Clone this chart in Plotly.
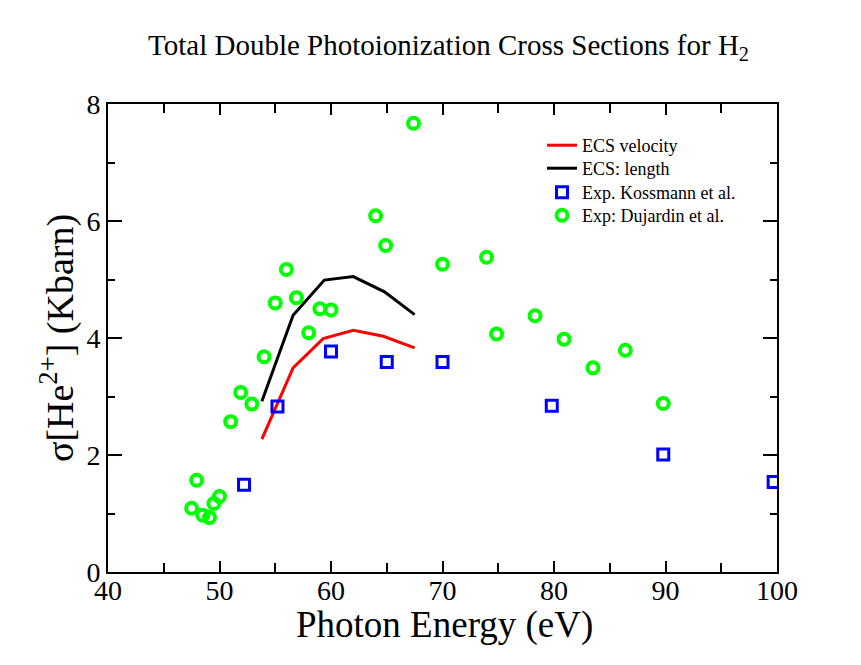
import plotly.graph_objects as go

# ECS velocity (red)
vel_x = [53.8, 56.6, 59.3, 62.0, 64.7, 67.5]
vel_y = [2.27, 3.49, 3.99, 4.13, 4.03, 3.83]
# ECS length (black)
len_x = [53.8, 56.6, 59.4, 62.0, 64.8, 67.5]
len_y = [2.92, 4.39, 4.99, 5.05, 4.79, 4.40]
# Exp. Kossmann et al. (blue squares)
kos_x = [52.2, 55.2, 60.0, 65.0, 70.0, 79.8, 89.8, 99.7]
kos_y = [1.49, 2.83, 3.77, 3.59, 3.59, 2.84, 2.01, 1.54]
# Exp. Dujardin et al. (green circles)
duj_x = [47.5, 47.95, 48.5, 49.1, 49.5, 50.0, 51.0, 51.9, 52.9, 54.0, 55.0, 56.0, 56.9,
         58.0, 59.0, 60.0, 64.0, 64.9, 67.4, 70.0, 73.95, 74.85, 78.3, 80.9, 83.5, 86.4, 89.8]
duj_y = [1.09, 1.57, 0.97, 0.93, 1.17, 1.29, 2.57, 3.07, 2.87, 3.68, 4.60, 5.17, 4.69,
         4.09, 4.50, 4.48, 6.09, 5.58, 7.67, 5.26, 5.38, 4.07, 4.38, 3.98, 3.49, 3.79, 2.88]

SERIF = "Liberation Serif"

fig = go.Figure()
fig.add_trace(go.Scatter(x=vel_x, y=vel_y, mode="lines", name="ECS velocity", legend="legend",
                         line=dict(color="#ff0000", width=3)))
fig.add_trace(go.Scatter(x=len_x, y=len_y, mode="lines", name="ECS: length", legend="legend2",
                         line=dict(color="#000000", width=3)))
fig.add_trace(go.Scatter(x=kos_x, y=kos_y, mode="markers", name="Exp. Kossmann et al.", legend="legend3",
                         marker=dict(symbol="square-open", size=11, color="#0000ff",
                                     line=dict(width=3, color="#0000ff"))))
fig.add_trace(go.Scatter(x=duj_x, y=duj_y, mode="markers", name="Exp: Dujardin et al.", legend="legend4",
                         marker=dict(symbol="circle-open", size=11, color="#00ff00",
                                     line=dict(width=4, color="#00ff00"))))

# page body adds 8px margin; figure is sized so the screenshot window fits it
W, H = 845, 649
L, T = 100, 96
R, B = W - 769, H - 564
pw = W - L - R
ph = H - T - B

def px2paper_x(px):
    return (px - L) / pw

def px2paper_y(py):
    return (H - B - py) / ph

axis_common = dict(
    showline=True, linecolor="black", linewidth=2, mirror="allticks",
    ticks="inside", tickcolor="black", tickwidth=2,
    showgrid=False, zeroline=False,
    tickfont=dict(family=SERIF, size=28, color="black"),
)

fig.update_xaxes(range=[40, 100], tickvals=[40, 50, 60, 70, 80, 90, 100], ticklen=11,
                 ticklabelstandoff=-8,
                 minor=dict(tickvals=[45, 55, 65, 75, 85, 95], ticks="inside", ticklen=9,
                            tickwidth=2, tickcolor="black", showgrid=False),
                 **axis_common)
fig.update_yaxes(range=[0, 8], tickvals=[0, 2, 4, 6, 8], ticklen=14,
                 minor=dict(tickvals=[1, 3, 5, 7], ticks="inside", ticklen=7,
                            tickwidth=2, tickcolor="black", showgrid=False),
                 title=dict(text="σ[He<sup>2+</sup>] (Kbarn)", font=dict(family=SERIF, size=38, color="black"),
                            standoff=1),
                 **axis_common)

fig.add_annotation(text="Photon Energy (eV)", xref="paper", yref="paper",
                   x=px2paper_x(436), y=px2paper_y(594), xanchor="center", yanchor="top",
                   showarrow=False, font=dict(family=SERIF, size=37, color="black"))

leg_common = dict(xanchor="left", yanchor="top", bgcolor="rgba(0,0,0,0)",
                  font=dict(family=SERIF, size=18, color="black"))
lx = px2paper_x(534)

fig.update_layout(
    width=W, height=H,
    margin=dict(l=L, r=R, t=T, b=B, autoexpand=False),
    paper_bgcolor="white", plot_bgcolor="white",
    title=dict(text="Total Double Photoionization Cross Sections for H<sub>2</sub>",
               font=dict(family=SERIF, size=29, color="black"),
               x=440.5 / W, xanchor="center", y=1 - 37 / H, yanchor="middle"),
    legend=dict(x=lx, y=px2paper_y(119), **leg_common),
    legend2=dict(x=lx, y=px2paper_y(142), **leg_common),
    legend3=dict(x=lx, y=px2paper_y(166), **leg_common),
    legend4=dict(x=lx, y=px2paper_y(189), **leg_common),
    showlegend=True,
)

fig.write_html("out.html")
